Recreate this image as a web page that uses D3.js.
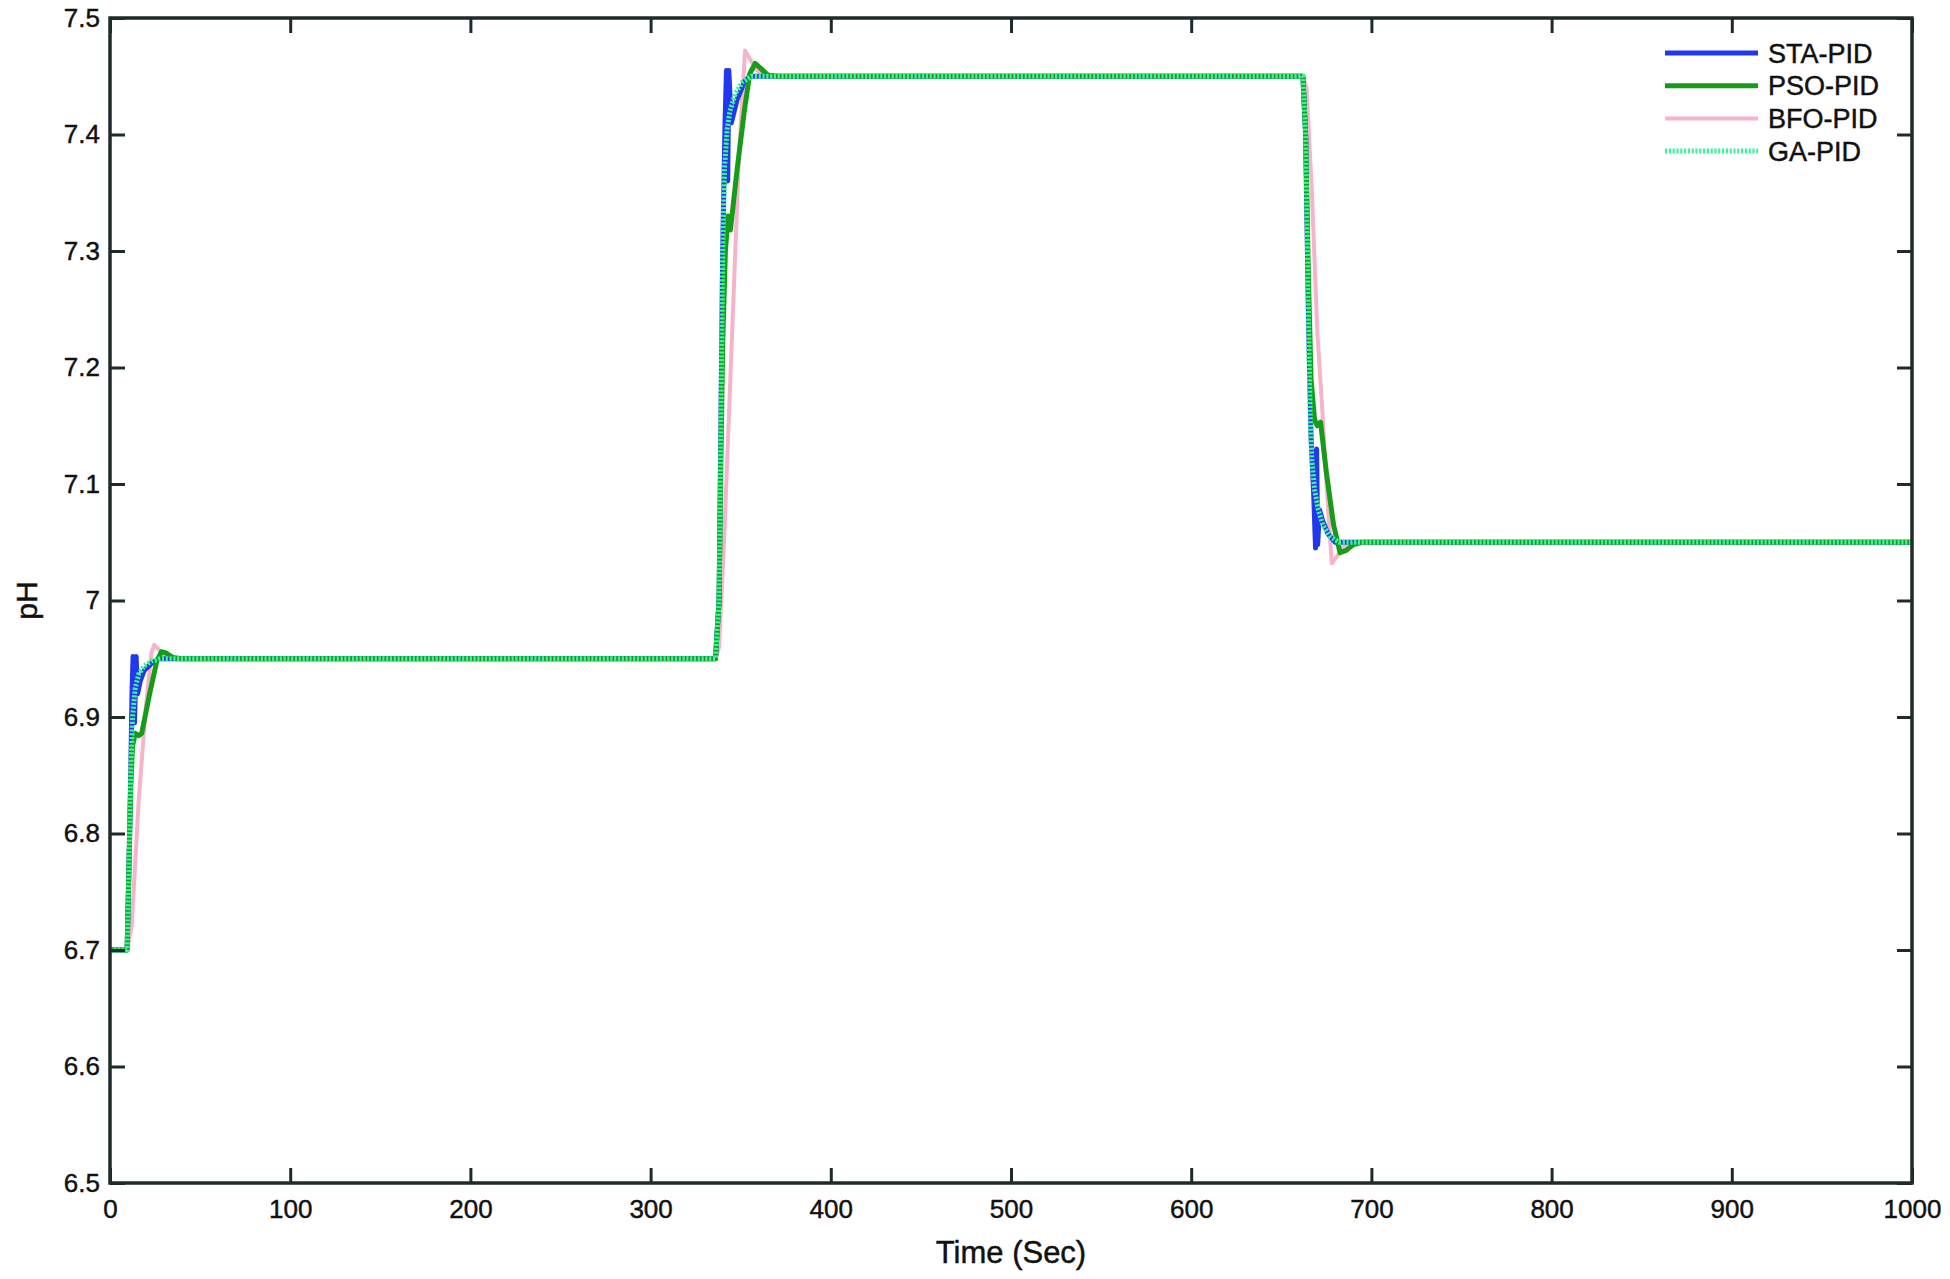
<!DOCTYPE html>
<html>
<head>
<meta charset="utf-8">
<script src="https://cdn.jsdelivr.net/npm/d3@7"></script>
<style>
  html, body { margin: 0; padding: 0; background: #ffffff; }
  svg { display: block; }
  text { font-family: "Liberation Sans", Arial, sans-serif; fill: #111; stroke: #111; stroke-width: 0.45px; }
</style>
</head>
<body>
<svg id="chart" width="1950" height="1279"></svg>
<script>
// ---- data ----
const seriesNames = ["STA-PID", "PSO-PID", "BFO-PID", "GA-PID"];

const staTime = [0, 9.5, 10.5, 11.5, 12.2, 12.8, 13.6, 14.5, 15.3, 16.8, 19, 23, 27, 30,
  336, 338, 339, 340, 341.3, 342.1, 342.8, 343.4, 344.8, 348, 352, 355,
  662, 663.5, 665, 666.5, 668, 669, 669.6, 670.2, 671.2, 673, 676, 680, 1000];
const staValue = [6.7, 6.7, 6.77, 6.85, 6.92, 6.952, 6.895, 6.952, 6.92, 6.931, 6.94, 6.946, 6.95, 6.95,
  6.95, 7.0, 7.15, 7.3, 7.41, 7.455, 7.36, 7.455, 7.41, 7.43, 7.445, 7.45,
  7.45, 7.40, 7.25, 7.14, 7.09, 7.045, 7.13, 7.048, 7.078, 7.068, 7.057, 7.05, 7.05];

const psoTime = [0, 9.5, 10.5, 11.5, 12.5, 14, 16, 17.6, 22, 26, 28.5, 31, 35, 40,
  336, 338, 339, 340, 341.5, 343, 344.3, 348, 352, 355, 358, 361, 365, 370,
  662, 663.5, 665, 666.5, 668.5, 670, 671.8, 675, 679, 682.6, 686, 690, 695, 1000];
const psoValue = [6.7, 6.7, 6.77, 6.84, 6.875, 6.886, 6.884, 6.886, 6.92, 6.948, 6.956, 6.955, 6.951, 6.95,
  6.95, 7.0, 7.12, 7.22, 7.3, 7.33, 7.318, 7.37, 7.42, 7.452, 7.461, 7.457, 7.451, 7.45,
  7.45, 7.40, 7.28, 7.19, 7.155, 7.15, 7.153, 7.11, 7.065, 7.041, 7.043, 7.048, 7.05, 7.05];

const bfoTime = [0, 9.5, 12, 16, 20, 23, 24.5, 27, 31, 36,
  336, 338, 341, 345, 349, 352.4, 355, 359, 364,
  662, 664, 667, 670, 672.5, 675.5, 678, 681, 685, 690, 1000];
const bfoValue = [6.7, 6.7, 6.72, 6.83, 6.91, 6.955, 6.962, 6.958, 6.952, 6.95,
  6.95, 6.96, 7.06, 7.22, 7.38, 7.472, 7.465, 7.455, 7.45,
  7.45, 7.44, 7.35, 7.23, 7.17, 7.09, 7.032, 7.038, 7.047, 7.05, 7.05];

const gaTime = [0, 9.5, 10.5, 11.5, 12.5, 14, 16, 19, 23, 28,
  336, 338, 339, 340, 341, 342.5, 344, 347, 351, 356,
  662, 663.5, 665, 666, 667, 668.5, 670.5, 673, 677, 682, 1000];
const gaValue = [6.7, 6.7, 6.77, 6.85, 6.9, 6.925, 6.937, 6.944, 6.948, 6.95,
  6.95, 7.0, 7.15, 7.3, 7.37, 7.405, 7.42, 7.435, 7.445, 7.45,
  7.45, 7.40, 7.25, 7.16, 7.12, 7.095, 7.078, 7.065, 7.055, 7.05, 7.05];

const xTicks = [0, 100, 200, 300, 400, 500, 600, 700, 800, 900, 1000];
const xTickLabels = ["0", "100", "200", "300", "400", "500", "600", "700", "800", "900", "1000"];
const yTicks = [6.5, 6.6, 6.7, 6.8, 6.9, 7.0, 7.1, 7.2, 7.3, 7.4, 7.5];
const yTickLabels = ["6.5", "6.6", "6.7", "6.8", "6.9", "7", "7.1", "7.2", "7.3", "7.4", "7.5"];

const xLabel = "Time (Sec)";
const yLabel = "pH";

// ---- layout ----
const margin = { left: 110, top: 18, right: 1950 - 1912, bottom: 1279 - 1183 };
const W = 1950 - margin.left - margin.right;
const H = 1279 - margin.top - margin.bottom;
const axisColor = "#1f2b2b";

const svg = d3.select("#chart");
const g = svg.append("g").attr("transform", `translate(${margin.left},${margin.top})`);

const x = d3.scaleLinear().domain([0, 1000]).range([0, W]);
const y = d3.scaleLinear().domain([6.5, 7.5]).range([H, 0]);

svg.append("defs").append("clipPath").attr("id", "clip")
  .append("rect").attr("x", 0).attr("y", -3).attr("width", W).attr("height", H + 6);

// series
const series = [
  { name: "BFO-PID", t: bfoTime, v: bfoValue, color: "#f6b4c8", width: 4, dash: null },
  { name: "STA-PID", t: staTime, v: staValue, color: "#2238ec", width: 5, dash: null },
  { name: "PSO-PID", t: psoTime, v: psoValue, color: "#169c18", width: 5, dash: null },
  { name: "GA-PID", t: gaTime, v: gaValue, color: "#3ff29a", width: 5, dash: "2.2,1.6" }
];

const line = d3.line().x(d => x(d[0])).y(d => y(d[1]));
const plot = g.append("g").attr("clip-path", "url(#clip)");
series.forEach(s => {
  const pts = s.t.map((t, i) => [t, s.v[i]]);
  plot.append("path").datum(pts)
    .attr("fill", "none")
    .attr("stroke", s.color)
    .attr("stroke-width", s.width)
    .attr("stroke-linejoin", "round")
    .attr("stroke-dasharray", s.dash)
    .attr("d", line);
});

// axes
function styleAxis(sel, showText) {
  sel.select(".domain").remove();
  sel.selectAll(".tick line").attr("stroke", axisColor).attr("stroke-width", 3);
  sel.selectAll(".tick text")
    .style("font-family", '"Liberation Sans", Arial, sans-serif')
    .style("font-size", "26px")
    .attr("fill", "#111");
  if (!showText) sel.selectAll(".tick text").remove();
}

g.append("g").attr("transform", `translate(0,${H})`)
  .call(d3.axisBottom(x).tickValues(xTicks).tickFormat((d, i) => xTickLabels[i]).tickSize(-15).tickPadding(17))
  .call(s => styleAxis(s, true));
g.append("g")
  .call(d3.axisTop(x).tickValues(xTicks).tickSize(-15))
  .call(s => styleAxis(s, false));
g.append("g")
  .call(d3.axisLeft(y).tickValues(yTicks).tickFormat((d, i) => yTickLabels[i]).tickSize(-15).tickPadding(10))
  .call(s => styleAxis(s, true));
g.append("g").attr("transform", `translate(${W},0)`)
  .call(d3.axisRight(y).tickValues(yTicks).tickSize(-15))
  .call(s => styleAxis(s, false));

// frame
g.append("rect").attr("x", 0).attr("y", 0).attr("width", W).attr("height", H)
  .attr("fill", "none").attr("stroke", axisColor).attr("stroke-width", 3.5);

// axis titles
g.append("text").attr("x", W / 2).attr("y", H + 80)
  .attr("text-anchor", "middle").style("font-size", "31px").text(xLabel);
svg.append("text").attr("transform", `translate(37,${margin.top + H / 2}) rotate(-90)`)
  .attr("text-anchor", "middle").style("font-size", "30px").text(yLabel);

// legend
const legendOrder = ["STA-PID", "PSO-PID", "BFO-PID", "GA-PID"];
const legend = svg.append("g");
legendOrder.forEach((name, i) => {
  const s = series.find(d => d.name === name);
  const yy = 53 + i * 32.7;
  legend.append("line").attr("x1", 1665).attr("x2", 1758).attr("y1", yy).attr("y2", yy)
    .attr("stroke", s.color).attr("stroke-width", s.width).attr("stroke-dasharray", s.dash);
  legend.append("text").attr("x", 1768).attr("y", yy).attr("dy", "0.36em")
    .style("font-size", "27px").text(name);
});
</script>
</body>
</html>
